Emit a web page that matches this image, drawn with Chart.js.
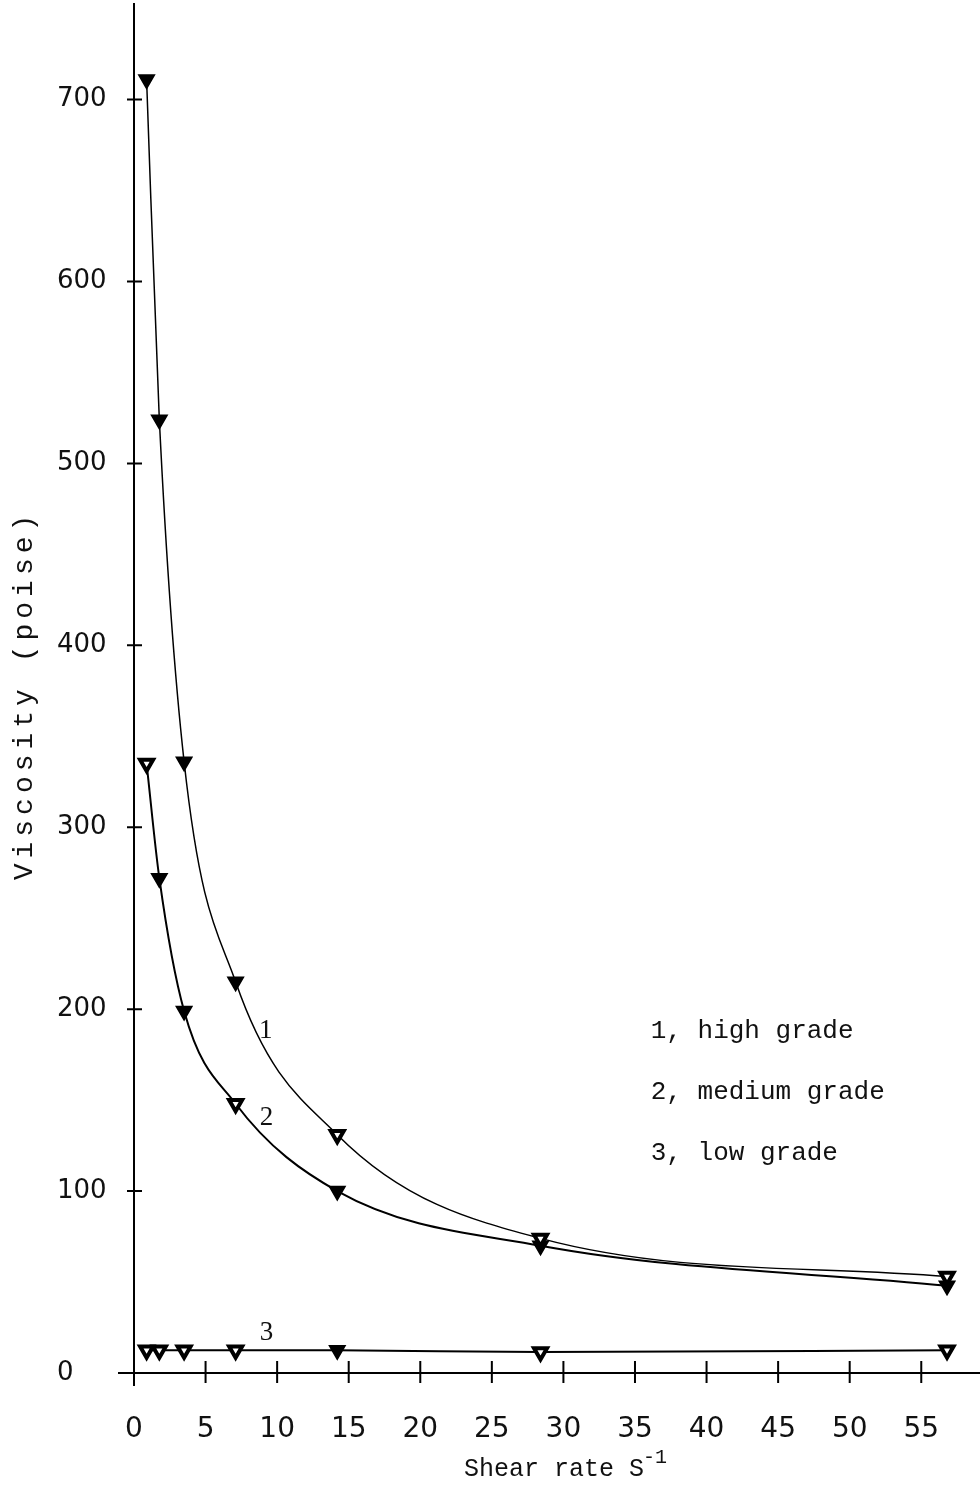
<!DOCTYPE html>
<html><head><meta charset="utf-8">
<script src="https://cdn.jsdelivr.net/npm/chart.js@4/dist/chart.umd.min.js"></script>
<style>html,body{margin:0;padding:0;background:#fff;}#wrap{width:980px;height:1485px;position:relative;}</style>
</head><body><div id="wrap"><canvas id="c" width="980" height="1485"></canvas></div>
<script>
// ---- data ----
const shearRate   = [0.88, 1.77, 3.5, 7.1, 14.2, 28.4, 56.8];
const highGrade   = [711, 524, 336, 215, 131, 74, 53];
const mediumGrade = [335, 272, 199, 148, 100, 70, 48];
const lowGrade    = [12.5, 12.5, 12.5, 12.5, 12.5, 11.5, 12.5];
const xTickValues = [0, 5, 10, 15, 20, 25, 30, 35, 40, 45, 50, 55];
const yTickValues = [0, 100, 200, 300, 400, 500, 600, 700];
const seriesNames = ['1, high grade', '2, medium grade', '3, low grade'];
const curveNumbers = ['1', '2', '3'];
const xTitle = 'Shear rate S';
const xTitleSup = '-1';
const yTitle = 'Viscosity (poise)';

// ---- styling (kept apart from data) ----
const hollowHigh = [false, false, false, false, true, true, true];
const hollowMed  = [true, false, false, true, false, false, false];
const hollowLow  = [true, true, true, true, false, true, true];
const curveLabelAt = [{x: 9.2, y: 188}, {x: 9.25, y: 140}, {x: 9.25, y: 22}];
const legendAt = {x: 36.1, y: [188, 154.4, 120.9]};

function pts(ys) { return shearRate.map((x, i) => ({x: x, y: ys[i]})); }
function bg(flags) { return flags.map(h => h ? '#fff' : '#000'); }
function bw(flags) { return flags.map(h => h ? 4 : 2); }
function rad(flags) { return flags.map(h => h ? 7.5 : 8.5); }

function ds(label, ys, flags, lw) {
  return {
    label: label, data: pts(ys), showLine: true,
    borderColor: '#000', borderWidth: lw, cubicInterpolationMode: 'monotone',
    pointStyle: 'triangle', rotation: 180, pointRadius: rad(flags),
    pointBackgroundColor: bg(flags), pointBorderColor: '#000', pointBorderWidth: bw(flags)
  };
}

const paperPlugin = {
  id: 'paper',
  beforeDatasetsDraw(chart) {
    const ctx = chart.ctx, xs = chart.scales.x, ys = chart.scales.y;
    const x0 = xs.getPixelForValue(0), y0 = ys.getPixelForValue(0);
    ctx.save();
    ctx.strokeStyle = '#000';
    ctx.lineWidth = 2;
    ctx.beginPath();
    ctx.moveTo(x0, 3); ctx.lineTo(x0, y0 + 13);
    ctx.moveTo(x0 - 16, y0); ctx.lineTo(chart.width, y0);
    yTickValues.forEach(v => { if (v === 0) return; const p = ys.getPixelForValue(v); ctx.moveTo(x0 - 7, p); ctx.lineTo(x0 + 8, p); });
    xTickValues.forEach(v => { if (v === 0) return; const p = xs.getPixelForValue(v); ctx.moveTo(p, y0 - 12); ctx.lineTo(p, y0 + 10); });
    ctx.stroke();
    ctx.restore();
  },
  afterDraw(chart) {
    const ctx = chart.ctx, xs = chart.scales.x, ys = chart.scales.y;
    ctx.save();
    ctx.fillStyle = '#111';
    // curve numbers
    ctx.font = '27px "Liberation Serif"';
    ctx.textAlign = 'center'; ctx.textBaseline = 'middle';
    curveNumbers.forEach((t, i) => ctx.fillText(t, xs.getPixelForValue(curveLabelAt[i].x), ys.getPixelForValue(curveLabelAt[i].y)));
    // legend text
    ctx.font = '26px "Liberation Mono"';
    ctx.textAlign = 'left';
    seriesNames.forEach((t, i) => ctx.fillText(t, xs.getPixelForValue(legendAt.x), ys.getPixelForValue(legendAt.y[i])));
    // x title
    ctx.font = '25px "Liberation Mono"';
    ctx.textBaseline = 'alphabetic';
    ctx.fillText(xTitle, 464, 1476);
    const w = ctx.measureText(xTitle).width;
    ctx.font = '20px "Liberation Mono"';
    ctx.fillText(xTitleSup, 464 + w - 1, 1463);
    // y title
    ctx.translate(25, 695);
    ctx.rotate(-Math.PI / 2);
    ctx.font = '28px "Liberation Mono"';
    ctx.letterSpacing = '5px';
    ctx.textAlign = 'center'; ctx.textBaseline = 'middle';
    ctx.fillText(yTitle, 0, 0);
    ctx.restore();
  }
};

new Chart(document.getElementById('c'), {
  type: 'scatter',
  data: { datasets: [
    ds(seriesNames[0], highGrade, hollowHigh, 1.5),
    ds(seriesNames[1], mediumGrade, hollowMed, 2),
    ds(seriesNames[2], lowGrade, hollowLow, 2)
  ]},
  options: {
    responsive: false, animation: false, devicePixelRatio: 1,
    layout: { padding: { left: 57, top: 8, right: 1, bottom: 0 } },
    plugins: { legend: { display: false }, tooltip: { enabled: false } },
    scales: {
      x: {
        type: 'linear', min: 0, max: 58.3,
        grid: { display: false, drawTicks: false }, border: { display: false },
        afterFit(s) { s.height = 112; },
        afterBuildTicks(s) { s.ticks = xTickValues.map(v => ({value: v})); },
        ticks: { padding: 40, color: '#111', font: { family: 'DejaVu Sans', size: 28 }, maxRotation: 0 }
      },
      y: {
        type: 'linear', min: 0, max: 744.5,
        grid: { display: false, drawTicks: false }, border: { display: false },
        afterFit(s) { s.width = 77; },
        afterBuildTicks(s) { s.ticks = yTickValues.map(v => ({value: v})); },
        ticks: { crossAlign: 'far', color: '#111', font: { family: 'DejaVu Sans', size: 26 } }
      }
    }
  },
  plugins: [paperPlugin]
});
</script></body></html>
